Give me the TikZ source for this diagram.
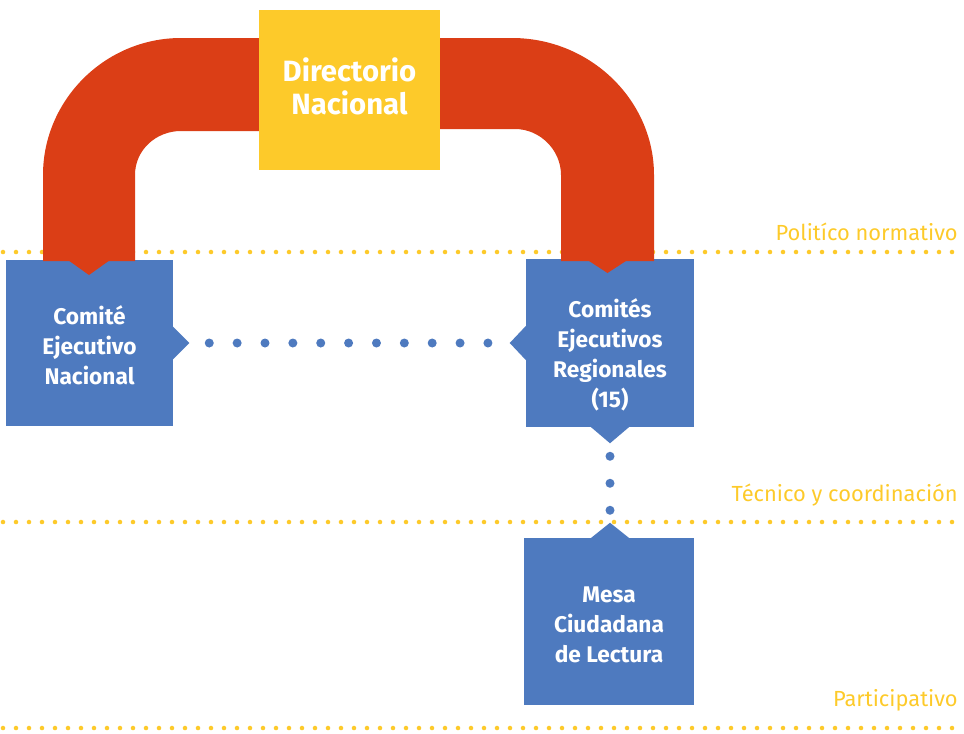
\documentclass[tikz,border=0pt]{standalone}
\usepackage{fontspec}
\setmainfont{Fira Sans}
\usetikzlibrary{calc}
\definecolor{rojo}{HTML}{DB3E16}
\definecolor{amarillo}{HTML}{FDCA2A}
\definecolor{azul}{HTML}{4E7ABF}
\begin{document}
\begin{tikzpicture}[x=0.75pt,y=-0.75pt,
  blueblock/.style={fill=azul, inner sep=0pt, minimum width=126pt, minimum height=125pt},
  blocktext/.style={text=white, align=center, inner sep=0pt, font=\bfseries\fontsize{17}{22.5}\selectfont},
  lvldots/.style={amarillo, line width=3.4pt, line cap=round, dash pattern=on 0pt off 9.75pt},
  linkdots/.style={azul, line width=6.75pt, line cap=round},
  lvllabel/.style={text=amarillo, anchor=base east, inner sep=0pt, font=\fontsize{16.4}{20}\selectfont},
  pointer/.style={fill=azul}]
\useasboundingbox (0,0) rectangle (964,733);
% level lines
\draw[lvldots] (3,252) -- (960,252);
\draw[lvldots] (3,522) -- (960,522);
\draw[lvldots] (3,728) -- (960,728);
\node[lvllabel] (l1) at (958,240) {Politíco normativo};
\node[lvllabel] (l2) at (958,501) {Técnico y coordinación};
\node[lvllabel] (l3) at (958,706) {Participativo};
% blue blocks
\node[blueblock, minimum width=125.25pt, minimum height=124.5pt] (cen) at (89.5,343) {};
\node[blocktext] (cent) at (89.5,345) {Comité\\Ejecutivo\\Nacional};
\node[blueblock, minimum width=126pt, minimum height=126pt] (cer) at (610,343) {};
\node[blocktext] (cert) at (610,355) {Comités\\Ejecutivos\\Regionales\\(15)};
\node[blueblock, minimum width=127.5pt, minimum height=125.25pt] (mcl) at (609,621.5) {};
\node[blocktext] (mclt) at (609,625) {Mesa\\Ciudadana\\de Lectura};
% pointers
\fill[pointer] ($(cen.east)+(-1,-17)$) -- ($(cen.east)+(16,0)$) -- ($(cen.east)+(-1,17)$) -- cycle;
\fill[pointer] ($(cer.west)+(1,-18)$) -- ($(cer.west)+(-16,0)$) -- ($(cer.west)+(1,18)$) -- cycle;
\fill[pointer] ($(cer.south)+(-20,-1)$) -- ($(cer.south)+(0,16)$) -- ($(cer.south)+(20,-1)$) -- cycle;
\fill[pointer] ($(mcl.north)+(-19,1)$) -- ($(mcl.north)+(1,-15)$) -- ($(mcl.north)+(21,1)$) -- cycle;
% red arch
\fill[rojo] (43,261) -- (43,175) .. controls (43,100) and (105,38) .. (181,38) -- (262,38) -- (262,131)
  -- (181,131) .. controls (156,131) and (135,150) .. (135,175) -- (135,261) -- cycle;
\fill[rojo] (436,38) -- (512,38) .. controls (590,38) and (654,100) .. (654,175) -- (654,261)
  -- (561,261) -- (561,175) .. controls (561,150) and (540,129) .. (515,129) -- (436,129) -- cycle;
\fill[rojo] (68,260) -- (110,260) -- (89,275) -- cycle;
\fill[rojo] (586,259) -- (629,259) -- (607.5,273) -- cycle;
% yellow block
\node[fill=amarillo, inner sep=0pt, minimum width=135.75pt, minimum height=120pt] (dn) at (349.5,90) {};
\node[text=white, align=center, inner sep=0pt, font=\bfseries\fontsize{22}{24.75}\selectfont] (dnt) at (349.5,86) {Directorio\\Nacional};
% dotted connectors
\draw[linkdots, dash pattern=on 0pt off 20.9pt] ($(cen.east)+(36,0)$) -- ($(cer.west)+(-36,0)$);
\draw[linkdots, dash pattern=on 0pt off 20.25pt] ($(cer.south)+(0,29)$) -- ($(mcl.north)+(1,-27)$);
\end{tikzpicture}
\end{document}
